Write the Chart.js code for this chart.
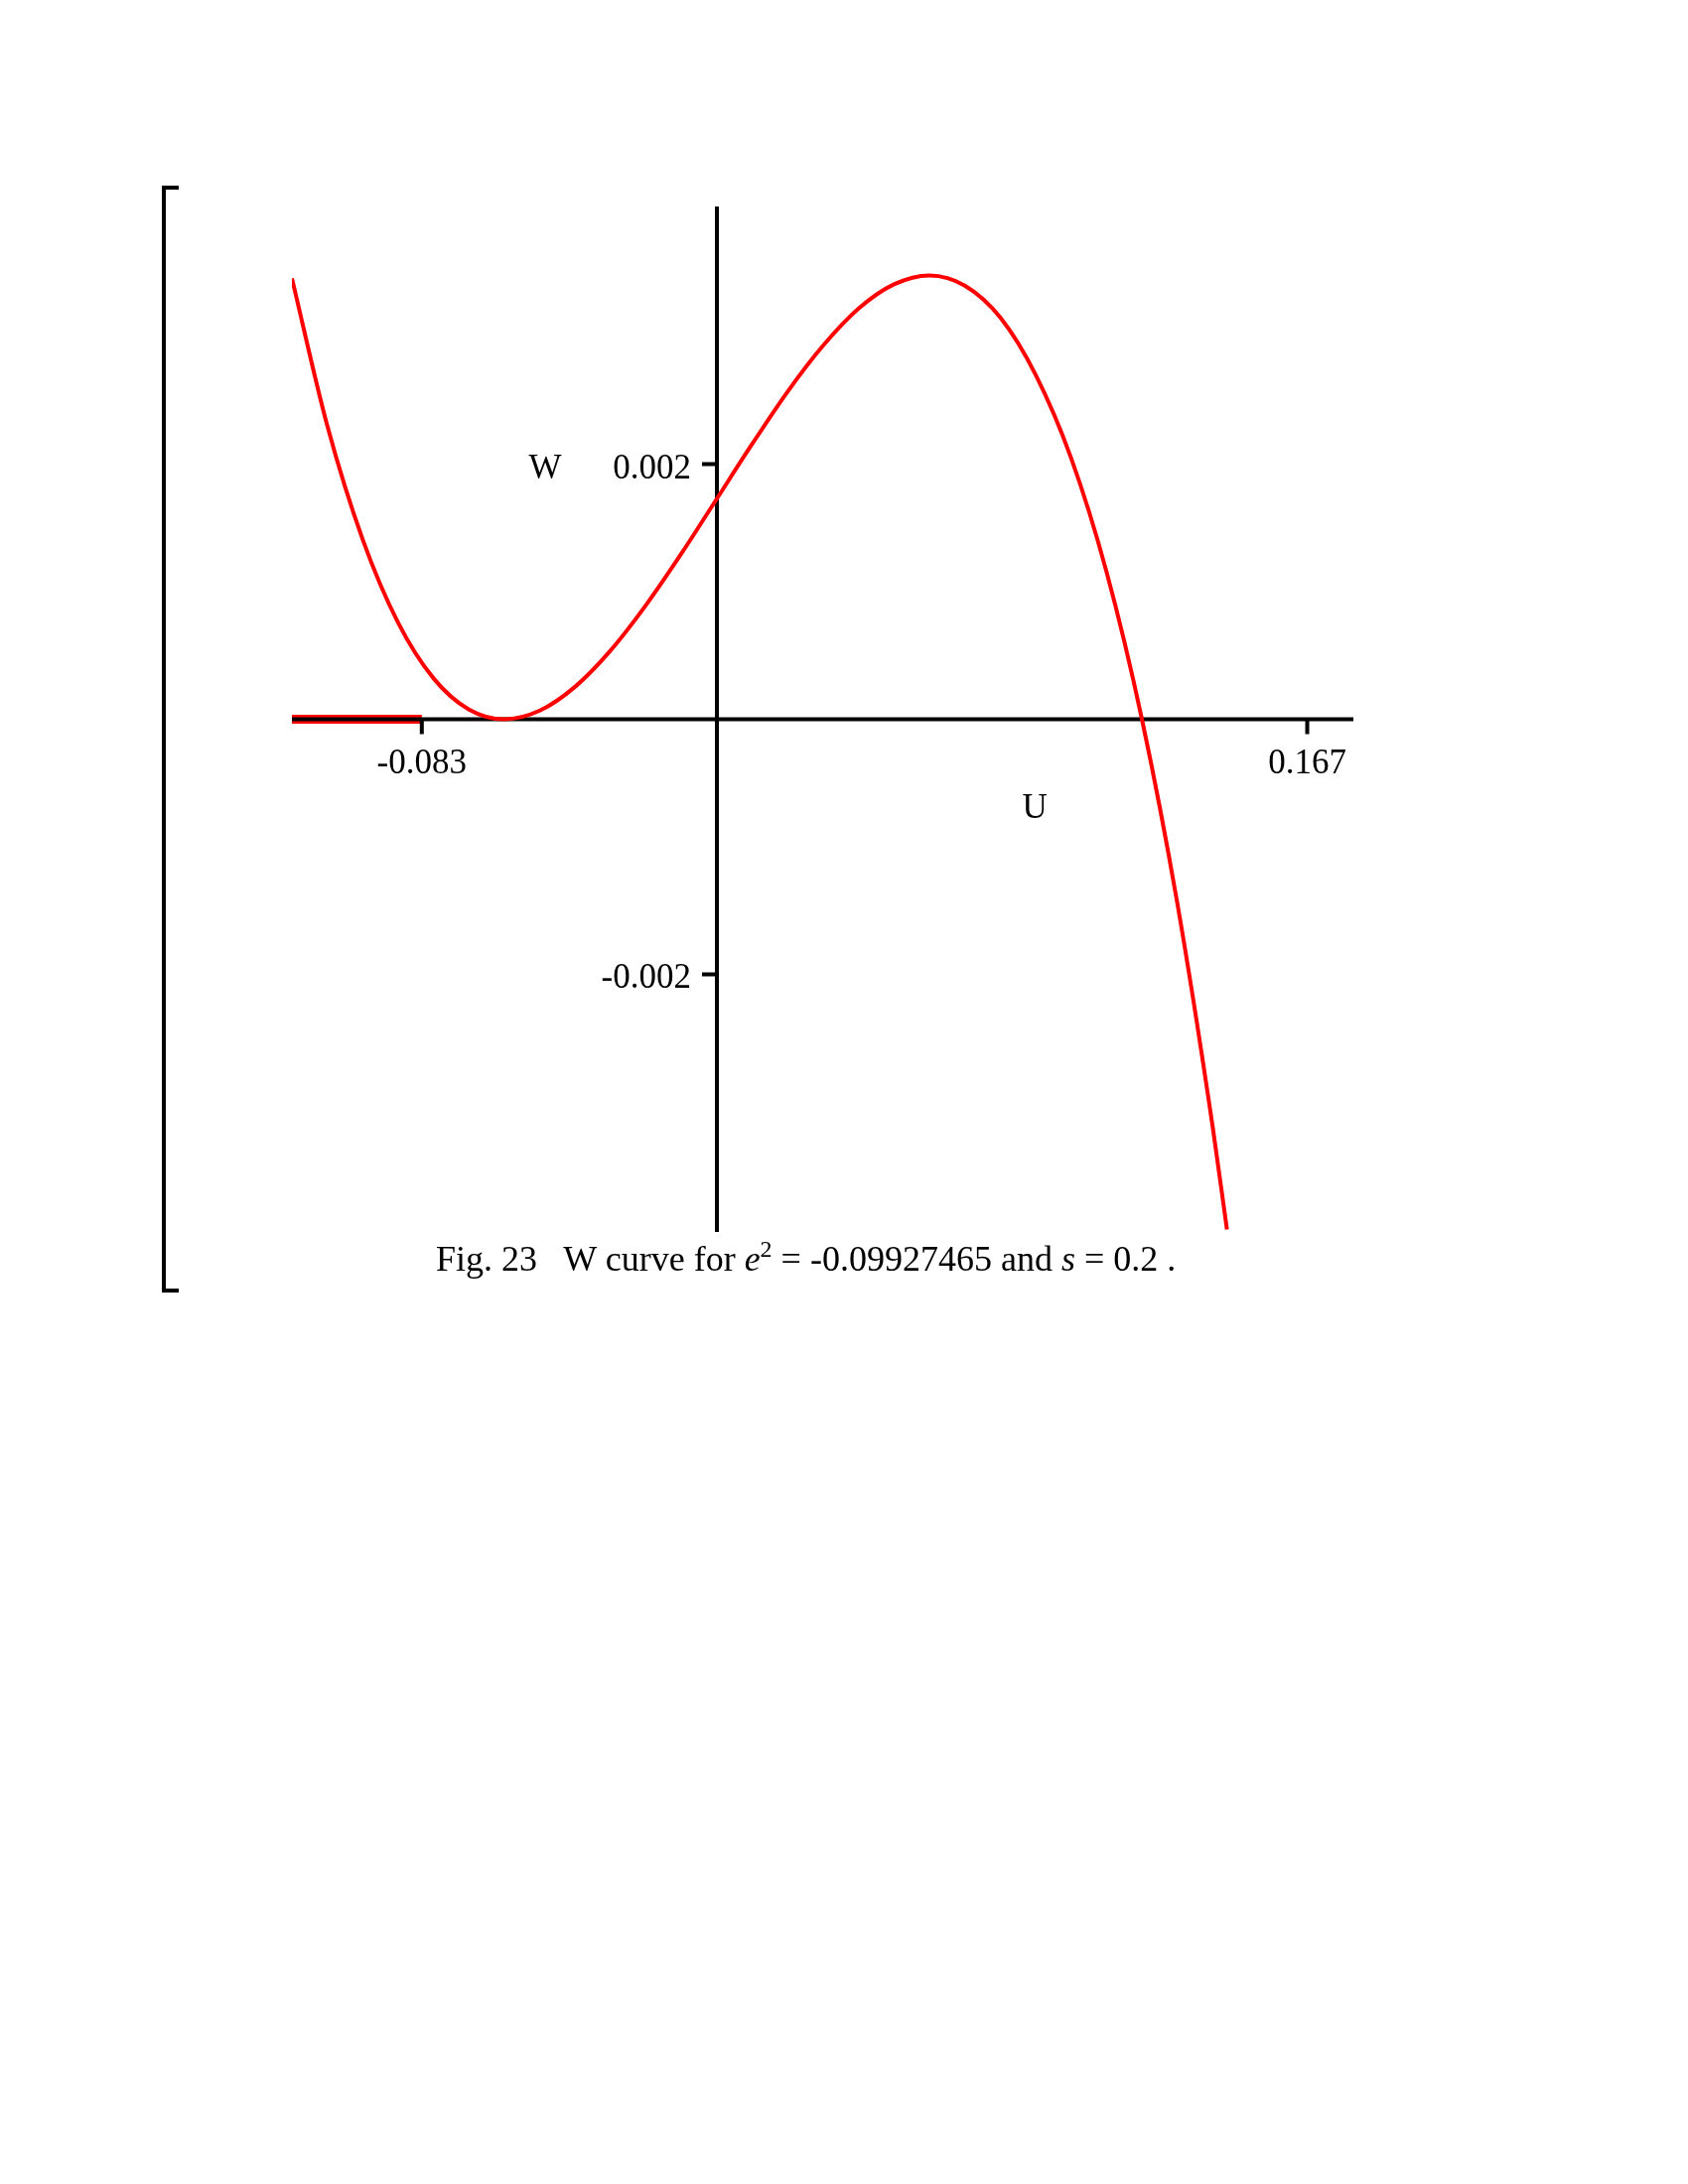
<!DOCTYPE html>
<html>
<head>
<meta charset="utf-8">
<script src="https://cdn.jsdelivr.net/npm/chart.js@4/dist/chart.umd.min.js"></script>
<style>
  body { margin: 0; background: #fff; }
  #wrap { position: relative; width: 1700px; height: 2200px; }
  #myChart { position: absolute; left: 0; top: 0; }
  .bracket { position: absolute; left: 163px; top: 187px; width: 17px; height: 1115px;
    box-sizing: border-box; border-left: 4px solid #000; border-top: 4px solid #000; border-bottom: 4px solid #000; }
  .caption { position: absolute; left: 439px; top: 1246px; font: 36px "Liberation Serif", serif;
    color: #000; white-space: pre; line-height: 44px; }
  .caption sup { font-size: 24px; vertical-align: 14px; line-height: 0; }
</style>
</head>
<body>
<div id="wrap">
  <canvas id="myChart" width="1700" height="2200"></canvas>
  <div class="bracket"></div>
  <div class="caption">Fig. 23   W curve for <i>e</i><sup>2</sup> = -0.09927465 and <i>s</i> = 0.2 .</div>
</div>
<script>
/*////////////////////////////////// DATA ////////////////////////////////////*/
// U values (horizontal) and W values (vertical)
const uValues = [-0.12, -0.11, -0.10, -0.09, -0.08, -0.07, -0.06, -0.05, -0.04, -0.03, -0.02, -0.01,
    0.00, 0.01, 0.02, 0.03, 0.04, 0.05, 0.06, 0.07, 0.08, 0.09, 0.10, 0.11, 0.12, 0.13, 0.14, 0.144];
const wValues = [0.003456, 0.0023, 0.001408, 0.000756, 0.00032, 0.000076, 0, 0.000068, 0.000256, 0.00054, 0.000896, 0.0013,
    0.00173, 0.00216, 0.00257, 0.00293, 0.00322, 0.00341, 0.00348, 0.0034, 0.00315, 0.0027, 0.002048, 0.001156, 0, -0.001444, -0.0032, -0.004];

// thick red piece lying on the U axis
const segmentU = [-0.12, -0.08333];
const segmentW = [0, 0];

const xTickValues = [-0.08333, 0.16667];
const xTickLabels = ['-0.083', '0.167'];
const yTickValues = [0.002, -0.002];
const yTickLabels = ['0.002', '-0.002'];
/*////////////////////////////////////////////////////////////////////////////*/

const curve = uValues.map((u, i) => ({ x: u, y: wValues[i] }));
const segment = segmentU.map((u, i) => ({ x: u, y: segmentW[i] }));

const FONT = '35px "Liberation Serif", serif';

// axes crossing at the origin, drawn between the red piece and the curve
const axesPlugin = {
    id: 'crossAxes',
    afterDatasetDraw(chart, args) {
        if (args.index !== 1) return;
        const { ctx, chartArea, scales: { x, y } } = chart;
        const x0 = x.getPixelForValue(0);
        const y0 = y.getPixelForValue(0);
        ctx.save();
        ctx.strokeStyle = '#000';
        ctx.lineWidth = 4;
        ctx.beginPath();
        ctx.moveTo(chartArea.left, y0);
        ctx.lineTo(chartArea.right, y0);
        ctx.moveTo(x0, chartArea.top);
        ctx.lineTo(x0, chartArea.bottom);
        xTickValues.forEach(v => {
            const px = x.getPixelForValue(v);
            ctx.moveTo(px, y0);
            ctx.lineTo(px, y0 + 15);
        });
        yTickValues.forEach(v => {
            const py = y.getPixelForValue(v);
            ctx.moveTo(x0 - 15, py);
            ctx.lineTo(x0, py);
        });
        ctx.stroke();
        ctx.restore();
    },
    afterDraw(chart) {
        const { ctx, scales: { x, y } } = chart;
        const x0 = x.getPixelForValue(0);
        const y0 = y.getPixelForValue(0);
        ctx.save();
        ctx.fillStyle = '#000';
        ctx.font = FONT;
        ctx.textBaseline = 'alphabetic';
        ctx.textAlign = 'center';
        xTickValues.forEach((v, i) => {
            ctx.fillText(xTickLabels[i], x.getPixelForValue(v), y0 + 54);
        });
        ctx.textAlign = 'right';
        yTickValues.forEach((v, i) => {
            ctx.fillText(yTickLabels[i], x0 - 26, y.getPixelForValue(v) + 14);
        });
        // axis names
        ctx.textAlign = 'center';
        ctx.fillText('W', x0 - 173, y.getPixelForValue(0.002) + 14);
        ctx.fillText('U', x0 + 320, y0 + 99);
        ctx.restore();
    }
};

const ctx = document.getElementById('myChart').getContext('2d');
const myChart = new Chart(ctx, {
    type: 'line',
    data: {
        datasets: [{
            label: 'W',
            data: curve,
            borderColor: '#ff0000',
            borderWidth: 4,
            pointRadius: 0,
            cubicInterpolationMode: 'monotone',
            fill: false,
            order: 1
        }, {
            label: 'W = 0',
            data: segment,
            borderColor: '#ff0000',
            borderWidth: 9,
            pointRadius: 0,
            fill: false,
            order: 2
        }]
    },
    options: {
        responsive: false,
        animation: false,
        devicePixelRatio: 1,
        layout: { padding: { left: 294, right: 337, top: 208, bottom: 959 } },
        plugins: { legend: { display: false }, tooltip: { enabled: false } },
        scales: {
            x: { type: 'linear', min: -0.12, max: 0.1797, display: false },
            y: { type: 'linear', min: -0.00402, max: 0.00402, display: false }
        }
    },
    plugins: [axesPlugin]
});
</script>
</body>
</html>
